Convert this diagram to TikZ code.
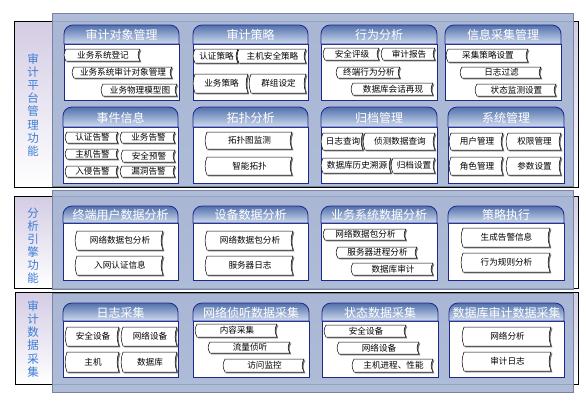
\documentclass[tikz,border=0pt]{standalone}
\usepackage{fontspec}
\setmainfont{Noto Sans CJK SC}
\definecolor{panelc}{RGB}{165,181,211}
\definecolor{panelb}{RGB}{118,132,162}
\definecolor{lavc}{RGB}{212,204,228}
\definecolor{navy}{RGB}{30,40,140}
\definecolor{hdtop}{RGB}{82,112,172}
\definecolor{hdbot}{RGB}{208,220,239}
\definecolor{sidec}{RGB}{60,125,215}
\definecolor{shadowc}{RGB}{120,120,120}
\tikzset{
  panel/.style={fill=panelc, draw=panelb, line width=0.8pt, fill opacity=0.9},
  lav/.style={top color=lavc, bottom color=white, draw=black, line width=0.8pt},
  itemtxt/.style={font=\fontsize{8.6}{9}\selectfont, inner sep=0pt, text=black},
  hdtxt/.style={font=\fontsize{12}{12}\selectfont, text=white, inner sep=0pt},
  sidetxt/.style={font=\fontsize{11.5}{13.1}\selectfont, text=sidec, align=center, inner sep=0pt},
  cardbody/.style={fill=white, draw=navy, line width=0.8pt},
  cardhead/.style={top color=hdtop, bottom color=hdbot, draw=navy, line width=0.8pt},
}
\newcommand\itm[6]{%
  \fill[shadowc] ({#2+1.4},{#3+1.4}) -- ({#4+1.4},{#3+1.4})
    .. controls ({#4-1.1},{#3+1.4+(#5-#3)/3}) and ({#4-1.1},{#5+1.4-(#5-#3)/3}) .. ({#4+1.4},{#5+1.4})
    -- ({#2+1.4},{#5+1.4})
    .. controls ({#2-1.1},{#5+1.4-(#5-#3)/3}) and ({#2-1.1},{#3+1.4+(#5-#3)/3}) .. cycle;
  \filldraw[fill=white, draw=black, line width=0.5pt] (#2,#3) -- (#4,#3)
    .. controls ({#4-2.5},{#3+(#5-#3)/3}) and ({#4-2.5},{#5-(#5-#3)/3}) .. (#4,#5)
    -- (#2,#5)
    .. controls ({#2-2.5},{#5-(#5-#3)/3}) and ({#2-2.5},{#3+(#5-#3)/3}) .. cycle;
  \node[itemtxt] (#1) at ({(#2+#4)/2},{(#3+#5)/2}) {#6};
}
\newcommand\card[7]{%
  \filldraw[cardbody] (#2,#5) rectangle (#4,#6);
  \path[cardhead] (#2,#5) [rounded corners=9pt] -- (#2,#3) -- (#4,#3) [sharp corners] -- (#4,#5) -- cycle;
  \node[hdtxt] (#1) at ({(#2+#4)/2},{(#3+#5)/2+0.5}) {#7};
}
\begin{document}
\begin{tikzpicture}[x=1pt,y=-1pt]
\useasboundingbox (0,0) rectangle (586,400);
% section backgrounds
\path[lav] (14,21) rectangle (578,187);
\path[lav] (14,196) rectangle (578,288);
\path[lav] (15,292) rectangle (578,384);
\path[panel] (52,13) rectangle (573,186);
\path[panel] (52,190) rectangle (573,289);
\path[panel] (52,293) rectangle (573,392);
% side labels
\node[sidetxt] (s1) at (33,105) {审\\计\\平\\台\\管\\理\\功\\能};
\node[sidetxt] (s2) at (33,245.5) {分\\析\\引\\擎\\功\\能};
\node[sidetxt] (s3) at (33,339) {审\\计\\数\\据\\采\\集};
% section 1 row 1
\card{c11}{64}{25}{179}{44}{100}{审计对象管理}
\card{c12}{193}{25}{308}{44}{100}{审计策略}
\card{c13}{321}{25}{437}{44}{100}{行为分析}
\card{c14}{445}{25}{561}{44}{100}{信息采集管理}
% section 1 row 2
\card{c21}{63}{107}{178}{127}{183}{事件信息}
\card{c22}{193}{107}{308}{127}{183}{拓扑分析}
\card{c23}{321}{107}{437}{127}{183}{归档管理}
\card{c24}{448}{107}{564}{127}{183}{系统管理}
% section 2
\card{c31}{63}{206}{178}{223}{280}{终端用户数据分析}
\card{c32}{193}{206}{308}{223}{280}{设备数据分析}
\card{c33}{321}{206}{437}{223}{280}{业务系统数据分析}
\card{c34}{448}{206}{564}{223}{280}{策略执行}
% section 3
\card{c41}{63}{303}{178}{321}{377}{日志采集}
\card{c42}{193}{303}{309}{321}{377}{网络侦听数据采集}
\card{c43}{322}{303}{438}{321}{377}{状态数据采集}
\card{c44}{449}{303}{564}{321}{377}{数据库审计数据采集}
% items S1 R1
\itm{i1}{66}{49}{140}{61}{业务系统登记}
\itm{i2}{74}{67}{172}{78}{业务系统审计对象管理}
\itm{i3}{103}{84}{177}{96}{业务物理模型图}
\itm{i4}{195}{49}{238}{63}{认证策略}
\itm{i5}{239}{49}{306}{63}{主机安全策略}
\itm{i6}{195}{74}{248}{93}{业务策略}
\itm{i7}{251}{74}{306}{93}{群组设定}
\itm{i8}{325}{48}{379}{60}{安全评级}
\itm{i9}{383}{48}{435}{60}{审计报告}
\itm{i10}{338}{67}{400}{78}{终端行为分析}
\itm{i11}{353}{83}{433}{95}{数据库会话再现}
\itm{i12}{448}{49}{528}{62}{采集策略设置}
\itm{i13}{462}{67}{541}{78}{日志过滤}
\itm{i14}{477}{84}{556}{96}{状态监测设置}
% items S1 R2
\itm{i15}{67}{132}{118}{143}{认证告警}
\itm{i16}{122}{132}{175}{143}{业务告警}
\itm{i17}{67}{149}{118}{159}{主机告警}
\itm{i18}{123}{150}{175}{162}{安全预警}
\itm{i19}{67}{166}{118}{177}{入侵告警}
\itm{i20}{122}{166}{175}{177}{漏洞告警}
\itm{i21}{207}{132}{292}{149}{拓扑图监测}
\itm{i22}{207}{157}{292}{175}{智能拓扑}
\itm{i23}{323}{133}{363}{150}{日志查询}
\itm{i24}{365}{133}{435}{150}{侦测数据查询}
\itm{i25}{323}{158}{391}{173}{数据库历史溯源}
\itm{i26}{393}{158}{435}{173}{归档设置}
\itm{i27}{451}{133}{503}{150}{用户管理}
\itm{i28}{508}{133}{561}{150}{权限管理}
\itm{i29}{451}{157}{503}{175}{角色管理}
\itm{i30}{508}{157}{561}{175}{参数设置}
% items S2
\itm{i31}{77}{231}{163}{250}{网络数据包分析}
\itm{i32}{77}{256}{163}{275}{入网认证信息}
\itm{i33}{207}{231}{293}{250}{网络数据包分析}
\itm{i34}{207}{256}{293}{275}{服务器日志}
\itm{i35}{325}{229}{406}{240}{网络数据包分析}
\itm{i36}{338}{247}{417}{258}{服务器进程分析}
\itm{i37}{353}{263}{433}{275}{数据库审计}
\itm{i38}{463}{228}{550}{247}{生成告警信息}
\itm{i39}{463}{253}{550}{272}{行为规则分析}
% items S3
\itm{i40}{67}{327}{119}{346}{安全设备}
\itm{i41}{123}{327}{177}{346}{网络设备}
\itm{i42}{67}{352}{119}{372}{主机}
\itm{i43}{123}{352}{177}{372}{数据库}
\itm{i44}{197}{324}{277}{337}{内容采集}
\itm{i45}{210}{342}{290}{353}{流量侦听}
\itm{i46}{225}{359}{304}{372}{访问监控}
\itm{i47}{326}{325}{406}{337}{安全设备}
\itm{i48}{339}{342}{419}{354}{网络设备}
\itm{i49}{354}{359}{433}{372}{主机进程、性能}
\itm{i50}{464}{327}{551}{346}{网络分析}
\itm{i51}{464}{352}{551}{371}{审计日志}
\end{tikzpicture}
\end{document}
